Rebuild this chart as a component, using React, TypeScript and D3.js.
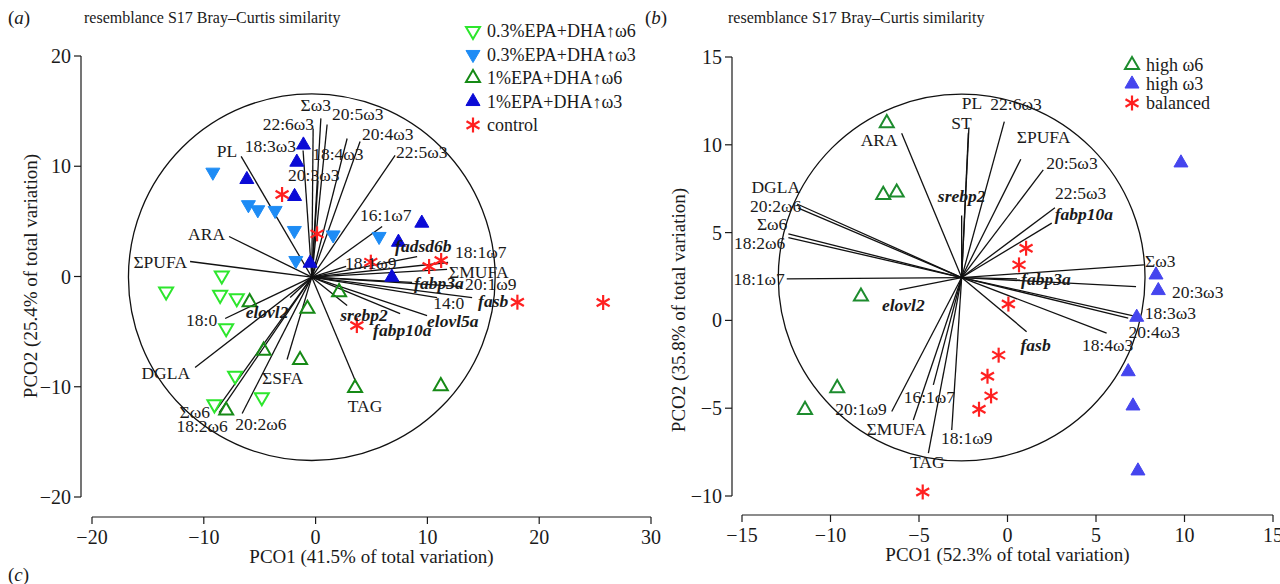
import { scaleLinear, symbol, symbolTriangle } from "d3";

// ---------- panel (a) data ----------
const lowOmega6A = [[-8.39, 0.09], [-13.37, -1.36], [-8.54, -1.66], [-7.05, -1.97], [-8.0, -4.69], [-7.2, -9.0], [-9.05, -11.6], [-4.81, -10.95]];
const lowOmega3A = [[-9.19, 9.46], [-6.01, 6.51], [-5.17, 6.05], [-3.62, 5.99], [-1.9, 4.17], [-1.77, 1.45], [1.57, 3.77], [5.68, 3.63]];
const highOmega6A = [[-5.9, -2.33], [-0.73, -2.93], [-4.65, -6.72], [-1.39, -7.58], [2.1, -1.42], [3.53, -10.12], [-8.0, -12.16], [11.2, -9.95]];
const highOmega3A = [[-1.09, 11.93], [-1.68, 10.37], [-6.15, 8.8], [-1.88, 7.26], [9.5, 4.84], [7.41, 3.11], [-0.49, 1.21], [6.82, -0.06]];
const controlA = [[-3.0, 7.44], [0.13, 3.87], [4.94, 1.3], [10.15, 0.91], [11.23, 1.45], [18.05, -2.33], [25.72, -2.36], [3.69, -4.45]];

const vectorNamesA = ["Σω3", "20:5ω3", "22:6ω3", "18:3ω3", "18:4ω3", "20:4ω3", "22:5ω3", "20:3ω3", "16:1ω7", "fadsd6b", "18:1ω7", "ΣMUFA", "18:1ω9", "fabp3a", "20:1ω9", "14:0", "fasb", "elovl5a", "fabp10a", "srebp2", "TAG", "ΣSFA", "20:2ω6", "18:2ω6", "Σω6", "DGLA", "18:0", "elovl2", "ΣPUFA", "ARA", "PL"];
const vectorEndsA = [[0.47, 14.34], [1.03, 13.79], [-0.22, 13.43], [-1.12, 11.43], [2.82, 12.52], [3.98, 12.25], [7.11, 10.98], [0.22, 8.71], [5.95, 4.54], [9.08, 1.81], [11.85, 1.27], [11.76, 0.64], [2.73, 0.91], [8.63, -0.54], [13.1, -0.91], [10.87, -1.91], [14.0, -1.91], [9.97, -3.54], [7.56, -3.36], [2.82, -2.63], [3.62, -9.62], [-2.55, -7.53], [-6.57, -12.43], [-8.63, -12.34], [-8.99, -12.25], [-10.78, -8.26], [-8.09, -3.81], [-2.28, -1.91], [-11.23, 1.36], [-7.74, 3.63], [-6.66, 10.89]];
const vectorOriginA = [-0.34, -0.06];
const circleRadiusA = 16.4;
const legendA = ["0.3%EPA+DHA↑ω6", "0.3%EPA+DHA↑ω3", "1%EPA+DHA↑ω6", "1%EPA+DHA↑ω3", "control"];
const xTicksA = [-20, -10, 0, 10, 20, 30];
const yTicksA = [-20, -10, 0, 10, 20];

// label placement (px offset from vector tip, anchor)
const labelLayoutA: [number, number, string][] = [[-5, -14, "middle"], [5, -11, "start"], [1, -5, "end"], [-7, -5, "end"], [-35, 15, "start"], [2, -8, "start"], [1, -4, "start"], [-30, -6, "start"], [-22, -12, "start"], [-22, -11, "start"], [7, -11, "start"], [2, 2, "start"], [-1, -4, "start"], [2, 0, "start"], [3, -3, "start"], [-4, 5, "start"], [6, 3, "start"], [0, 5, "start"], [-27, 16, "start"], [-7, 9, "start"], [9, 23, "middle"], [-25, 18, "start"], [-7, 10, "start"], [-17, 13, "middle"], [-5, 0, "end"], [-5, 5, "end"], [-8, 1, "end"], [-23, 14, "middle"], [-3, 0, "end"], [-4, -3, "end"], [-4, -6, "end"]];

// ---------- panel (b) data ----------
const highOmega6B = [[-6.82, 11.23], [-7.02, 7.15], [-6.26, 7.28], [-8.28, 1.36], [-9.62, -3.86], [-11.44, -5.1]];
const highOmega3B = [[9.8, 8.97], [8.39, 2.59], [8.52, 1.7], [7.3, 0.18], [6.82, -2.92], [7.09, -4.87], [7.37, -8.57]];
const balancedB = [[1.05, 4.11], [0.65, 3.16], [0.05, 0.93], [-0.5, -1.98], [-1.13, -3.18], [-0.93, -4.3], [-1.61, -5.06], [-4.79, -9.77]];

const vectorNamesB = ["ARA", "ST", "PL", "22:6ω3", "ΣPUFA", "20:5ω3", "22:5ω3", "fabp10a", "srebp2", "Σω3", "fabp3a", "20:3ω3", "18:3ω3", "20:4ω3", "18:4ω3", "fasb", "DGLA", "20:2ω6", "Σω6", "18:2ω6", "18:1ω7", "elovl2", "20:1ω9", "ΣMUFA", "16:1ω7", "18:1ω9", "TAG"];
const vectorEndsB = [[-5.98, 10.66], [-2.21, 10.69], [-2.18, 10.98], [-0.18, 11.32], [0.75, 9.18], [2.02, 8.57], [2.68, 6.42], [2.5, 5.54], [-2.59, 5.98], [7.71, 3.16], [0.71, 2.36], [7.26, 1.92], [7.3, 0.22], [6.82, 0.13], [5.6, -0.73], [1.08, -0.64], [-11.89, 6.63], [-11.82, 6.39], [-12.38, 4.93], [-12.38, 4.72], [-12.47, 2.36], [-6.11, 1.74], [-6.54, -5.19], [-5.32, -5.67], [-4.19, -3.67], [-3.15, -6.24], [-4.47, -7.56]];
const vectorOriginB = [-2.59, 2.44];
const circleRadiusB = 10.36;
const legendB = ["high ω6", "high ω3", "balanced"];
const xTicksB = [-15, -10, -5, 0, 5, 10, 15];
const yTicksB = [-10, -5, 0, 5, 10, 15];

const labelLayoutB: [number, number, string][] = [[-4, 7, "end"], [-7, -10, "middle"], [3, -25, "middle"], [-14, -18, "start"], [-4, -22, "start"], [3, -7, "start"], [0, -15, "start"], [3, -9, "start"], [0, -20, "middle"], [1, -4, "start"], [1, 0, "start"], [36, 5, "start"], [8, -4, "start"], [26, 14, "middle"], [1, 12, "middle"], [9, 13, "middle"], [3, -17, "end"], [3, -2, "end"], [-1, -10, "end"], [-3, 5, "end"], [-2, 0, "end"], [4, 15, "middle"], [-5, -3, "end"], [-17, 9, "middle"], [-4, 12, "middle"], [15, 8, "middle"], [-1, 9, "middle"]];

const genes = new Set(["fadsd6b", "fabp3a", "fasb", "elovl5a", "fabp10a", "srebp2", "elovl2"]);

const FONT = "'Liberation Serif', 'DejaVu Serif', serif";
const INK = "#1a1a1a";
const tri = symbol(symbolTriangle, 85)();
const fmt = (t: number) => (t < 0 ? "\u2212" + Math.abs(t) : String(t));

function Marker({ kind, color, x, y }: { kind: string; color: string; x: number; y: number }) {
  if (kind === "star") {
    const r = 7.5;
    return (
      <g transform={`translate(${x},${y})`} stroke={color} strokeWidth={2.2}>
        {[90, 30, 150].map((a) => {
          const dx = r * Math.cos((a * Math.PI) / 180), dy = r * Math.sin((a * Math.PI) / 180);
          return <line key={a} x1={-dx} y1={-dy} x2={dx} y2={dy} />;
        })}
      </g>
    );
  }
  const down = kind.startsWith("down");
  const open = kind.endsWith("Open");
  return (
    <path
      d={tri as string}
      transform={`translate(${x},${y}) scale(${down ? "1,-1" : "1,1"})`}
      fill={open ? "white" : color}
      fillOpacity={open ? 0 : 1}
      stroke={color}
      strokeWidth={open ? 2 : 1}
    />
  );
}

type Series = { pts: number[][]; kind: string; color: string };

function Panel(props: any) {
  const { xDomain, xRange, yDomain, yRange, xTicks, yTicks, axisX, axisY, series, names, ends, layout, origin, radius, xTitle, yTitle, yTitlePos } = props;
  const x = scaleLinear().domain(xDomain).range(xRange);
  const y = scaleLinear().domain(yDomain).range(yRange);
  const ox = x(origin[0]), oy = y(origin[1]);
  const r = x(radius) - x(0);
  return (
    <g fontFamily={FONT} fill={INK}>
      {/* axes */}
      <line x1={axisX} x2={axisX} y1={y(yDomain[0])} y2={y(yDomain[1])} stroke={INK} strokeWidth={1.2} />
      {yTicks.map((t: number) => (
        <g key={t}>
          <line x1={axisX - 7} x2={axisX} y1={y(t)} y2={y(t)} stroke={INK} strokeWidth={1.2} />
          <text x={axisX - 10} y={y(t)} dy="0.35em" textAnchor="end" fontSize={20}>{fmt(t)}</text>
        </g>
      ))}
      <line x1={x(xDomain[0])} x2={x(xDomain[1])} y1={axisY} y2={axisY} stroke={INK} strokeWidth={1.2} />
      {xTicks.map((t: number) => (
        <g key={t}>
          <line x1={x(t)} x2={x(t)} y1={axisY} y2={axisY + 7} stroke={INK} strokeWidth={1.2} />
          <text x={x(t)} y={axisY + 20} dy="0.35em" textAnchor="middle" fontSize={20}>{fmt(t)}</text>
        </g>
      ))}
      <text x={(x(xDomain[0]) + x(xDomain[1])) / 2} y={axisY + 39} dy="0.35em" textAnchor="middle" fontSize={19}>{xTitle}</text>
      <text transform={`translate(${yTitlePos[0]},${yTitlePos[1]}) rotate(-90)`} dy="0.35em" textAnchor="middle" fontSize={19}>{yTitle}</text>

      {/* vector overlay */}
      <circle cx={ox} cy={oy} r={r} fill="none" stroke="#111" strokeWidth={1.3} />
      {ends.map((e: number[], i: number) => (
        <line key={i} x1={ox} y1={oy} x2={x(e[0])} y2={y(e[1])} stroke="#111" strokeWidth={1.3} />
      ))}

      {/* points */}
      {series.map((s: Series, si: number) =>
        s.pts.map((p, i) => <Marker key={si + "-" + i} kind={s.kind} color={s.color} x={x(p[0])} y={y(p[1])} />)
      )}

      {/* vector labels */}
      {names.map((n: string, i: number) => {
        const [dx, dy, anchor] = layout[i];
        const g = genes.has(n);
        return (
          <text key={n} x={x(ends[i][0]) + dx} y={y(ends[i][1]) + dy} dy="0.35em" textAnchor={anchor}
            fontSize={17.5} fontStyle={g ? "italic" : "normal"} fontWeight={g ? "bold" : "normal"} fill={INK}>
            {n}
          </text>
        );
      })}
    </g>
  );
}

function Legend({ items, series, x, y0, step }: any) {
  return (
    <g fontFamily={FONT} fill={INK}>
      {items.map((label: string, i: number) => (
        <g key={label}>
          <Marker kind={series[i].kind} color={series[i].color} x={x} y={y0 + i * step} />
          <text x={x + 14} y={y0 + i * step} dy="0.35em" fontSize={18}>{label}</text>
        </g>
      ))}
    </g>
  );
}

export default function App() {
  const seriesA: Series[] = [
    { pts: lowOmega6A, kind: "downOpen", color: "#2de62d" },
    { pts: lowOmega3A, kind: "downFilled", color: "#1e8cf5" },
    { pts: highOmega6A, kind: "upOpen", color: "#168a16" },
    { pts: highOmega3A, kind: "upFilled", color: "#0b0bd6" },
    { pts: controlA, kind: "star", color: "#ff2020" },
  ];
  const seriesB: Series[] = [
    { pts: highOmega6B, kind: "upOpen", color: "#1d8c2e" },
    { pts: highOmega3B, kind: "upFilled", color: "#4545ee" },
    { pts: balancedB, kind: "star", color: "#ff2020" },
  ];
  return (
    <svg width={1280} height={584} viewBox="0 0 1280 584" style={{ position: "absolute", left: 0, top: 0, background: "white" }}>
      <rect width={1280} height={584} fill="white" />
      <g fontFamily={FONT} fill={INK}>
        <text x={8} y={17} dy="0.35em" fontSize={19}>(<tspan fontStyle="italic">a</tspan>)</text>
        <text x={84} y={17} dy="0.35em" fontSize={16}>resemblance S17 Bray–Curtis similarity</text>
        <text x={645} y={17} dy="0.35em" fontSize={19}>(<tspan fontStyle="italic">b</tspan>)</text>
        <text x={728} y={17} dy="0.35em" fontSize={16}>resemblance S17 Bray–Curtis similarity</text>
        <text x={8} y={574} dy="0.35em" fontSize={19}>(<tspan fontStyle="italic">c</tspan>)</text>
      </g>
      <Panel
        xDomain={[-20, 30]} xRange={[92, 651]} yDomain={[-20, 20]} yRange={[497, 56]}
        xTicks={xTicksA} yTicks={yTicksA} axisX={81} axisY={517}
        series={seriesA} names={vectorNamesA} ends={vectorEndsA} layout={labelLayoutA}
        origin={vectorOriginA} radius={circleRadiusA}
        xTitle="PCO1 (41.5% of total variation)" yTitle="PCO2 (25.4% of total variation)" yTitlePos={[30, 276]}
      />
      <Panel
        xDomain={[-15, 15]} xRange={[742, 1273]} yDomain={[-10, 15]} yRange={[496, 57]}
        xTicks={xTicksB} yTicks={yTicksB} axisX={732} axisY={515}
        series={seriesB} names={vectorNamesB} ends={vectorEndsB} layout={labelLayoutB}
        origin={vectorOriginB} radius={circleRadiusB}
        xTitle="PCO1 (52.3% of total variation)" yTitle="PCO2 (35.8% of total variation)" yTitlePos={[678, 310]}
      />
      <Legend items={legendA} series={seriesA} x={473} y0={31} step={23.5} />
      <Legend items={legendB} series={seriesB} x={1132} y0={65} step={19} />
    </svg>
  );
}
